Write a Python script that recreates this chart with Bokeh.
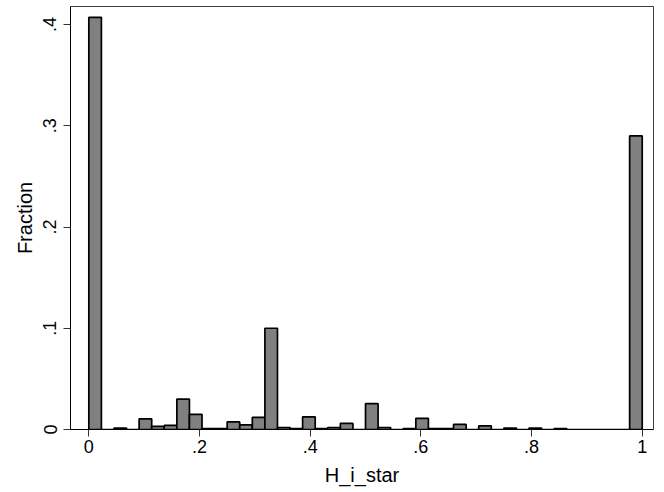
import math
from bokeh.plotting import figure
from bokeh.models import FixedTicker, ColumnDataSource, Range1d
from bokeh.embed import file_html
from bokeh.resources import INLINE

# Histogram: 44 equal-width bins on [0, 1], fraction of observations per bin
n_bins = 44
fractions = [
    0.407, 0.0, 0.0015, 0.0, 0.0105, 0.003, 0.004, 0.030, 0.015, 0.001,
    0.001, 0.0075, 0.0045, 0.012, 0.100, 0.002, 0.001, 0.0125, 0.001, 0.002,
    0.006, 0.0, 0.0255, 0.002, 0.0, 0.001, 0.011, 0.001, 0.001, 0.005,
    0.0, 0.0035, 0.0, 0.0015, 0.0, 0.0015, 0.0, 0.0008, 0.0, 0.0,
    0.0, 0.0, 0.0, 0.290,
]
x_ticks = [0, 0.2, 0.4, 0.6, 0.8, 1]
x_tick_labels = ["0", ".2", ".4", ".6", ".8", "1"]
y_ticks = [0, 0.1, 0.2, 0.3, 0.4]
y_tick_labels = ["0", ".1", ".2", ".3", ".4"]

width_bin = 1.0 / n_bins
lefts = [i * width_bin for i in range(n_bins)]
rights = [(i + 1) * width_bin for i in range(n_bins)]
src = ColumnDataSource(dict(left=lefts, right=rights, top=fractions,
                            bottom=[0.0] * n_bins))

p = figure(width=664, height=492, output_backend="svg", toolbar_location=None,
           x_range=Range1d(-0.0331, 1.0204), y_range=Range1d(0, 0.4178),
           min_border_left=70, min_border_right=11, min_border_top=6,
           min_border_bottom=63)

p.quad(left="left", right="right", top="top", bottom="bottom", source=src,
       fill_color="#808080", line_color="#000000", line_width=1.7)

p.xgrid.visible = False
p.ygrid.visible = False
p.outline_line_color = "#404040"
p.outline_line_width = 1
p.background_fill_color = "white"
p.border_fill_color = "white"

font = "Liberation Sans"
for ax in (p.xaxis[0], p.yaxis[0]):
    ax.axis_line_color = "black"
    ax.axis_line_width = 1
    ax.major_tick_line_color = "#333333"
    ax.major_tick_out = 7
    ax.major_tick_in = 0
    ax.minor_tick_line_color = None
    ax.major_label_text_font = font
    ax.major_label_text_font_size = "18px"
    ax.major_label_text_color = "black"
    ax.axis_label_text_font = font
    ax.axis_label_text_font_size = "20px"
    ax.axis_label_text_font_style = "normal"
    ax.axis_label_text_color = "black"

p.xaxis[0].ticker = FixedTicker(ticks=x_ticks)
p.xaxis[0].major_label_overrides = {t: l for t, l in zip(x_ticks, x_tick_labels)}
p.xaxis[0].axis_label = "H_i_star"
p.xaxis[0].major_label_standoff = 3
p.xaxis[0].axis_label_standoff = 8

p.yaxis[0].ticker = FixedTicker(ticks=y_ticks)
p.yaxis[0].major_label_overrides = {t: l for t, l in zip(y_ticks, y_tick_labels)}
p.yaxis[0].major_label_orientation = "vertical"
p.yaxis[0].axis_label = "Fraction"
p.yaxis[0].major_label_standoff = 7
p.yaxis[0].axis_label_standoff = 5

open("out.html", "w").write(file_html(p, INLINE))
